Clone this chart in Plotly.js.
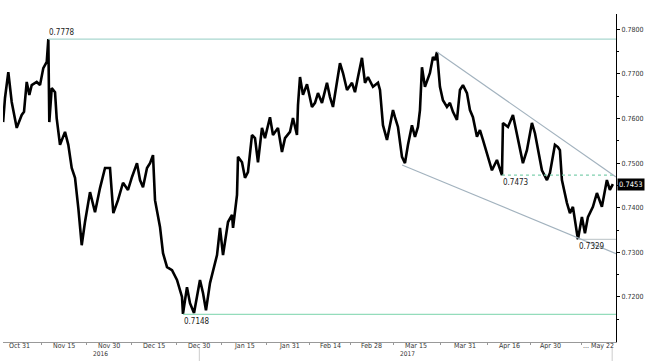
<!DOCTYPE html>
<html>
<head>
<meta charset="utf-8">
<script src="https://cdn.plot.ly/plotly-3.0.1.min.js"></script>
<style>html,body{margin:0;padding:0;background:#fff;}#chart{width:649px;height:361px;}</style>
</head>
<body>
<div id="chart"></div>
<script>
// trading-session number since Oct 25 2016 (weekends removed)
const session = [0,0.46,1.27,2.1,3.33,4.55,5.11,5.77,6.41,7.0,8.22,9.03,9.83,10.67,11.06,11.3,11.89,12.7,13.1,13.92,15.14,15.95,16.78,17.59,18.4,19.23,20.03,21.26,22.48,23.7,24.93,26.15,26.96,28.1,29.33,30.55,31.53,32.75,33.49,34.22,35.2,35.94,36.67,37.16,38.38,39.12,40.1,41.32,42.54,43.76,44.0,44.98,45.72,46.7,48.16,48.9,49.63,50.61,52.33,53.06,53.8,55.02,56.0,56.25,57.22,57.46,58.44,59.17,59.9,60.88,61.62,62.35,63.33,64.06,65.29,66.02,67.24,68.22,68.96,70.18,70.91,71.89,72.14,72.63,73.36,74.34,75.56,76.3,77.03,78.01,79.23,79.97,80.7,81.68,82.41,83.15,84.13,85.35,86.08,86.82,87.79,88.53,89.26,90.48,91.71,92.2,92.93,93.91,94.64,95.38,95.86,96.6,97.58,98.31,99.05,100.02,100.76,101.49,101.98,102.47,103.2,104.42,105.16,105.65,106.14,106.87,107.6,108.58,109.31,110.05,111.03,111.76,112.5,113.48,114.21,114.94,115.92,116.65,117.39,118.37,119.59,120.81,122.04,122.28,123.51,124.73,125.71,126.44,127.17,128.15,129.37,130.11,130.84,131.82,133.05,133.78,135.0,135.73,136.22,136.71,137.93,138.67,139.4,140.62,141.6,142.34,143.07,144.29,145.27,146.49,147.71,148.44,149.18];
const price = [0.7592,0.7646,0.7704,0.7637,0.7579,0.7608,0.7615,0.7682,0.7653,0.7675,0.7682,0.7675,0.7713,0.7727,0.7778,0.7592,0.7668,0.7659,0.7601,0.7541,0.7570,0.7541,0.7489,0.7467,0.7399,0.7316,0.7368,0.7435,0.7390,0.7444,0.7489,0.7489,0.7388,0.7417,0.7456,0.7440,0.7469,0.7500,0.7462,0.7446,0.7489,0.7500,0.7518,0.7417,0.7357,0.7298,0.7267,0.7260,0.7238,0.7200,0.7162,0.7222,0.7186,0.7164,0.7238,0.7209,0.7170,0.7231,0.7294,0.7355,0.7294,0.7368,0.7384,0.7355,0.7429,0.7514,0.7502,0.7467,0.7480,0.7563,0.7556,0.7502,0.7579,0.7556,0.7603,0.7563,0.7579,0.7525,0.7556,0.7570,0.7601,0.7563,0.7630,0.7693,0.7653,0.7677,0.7626,0.7635,0.7657,0.7635,0.7680,0.7648,0.7626,0.7680,0.7724,0.7702,0.7664,0.7680,0.7659,0.7693,0.7736,0.7680,0.7693,0.7671,0.7680,0.7664,0.7585,0.7552,0.7590,0.7619,0.7603,0.7581,0.7514,0.7500,0.7541,0.7585,0.7559,0.7581,0.7619,0.7715,0.7671,0.7702,0.7738,0.7731,0.7749,0.7671,0.7641,0.7626,0.7635,0.7615,0.7597,0.7664,0.7675,0.7657,0.7619,0.7603,0.7559,0.7574,0.7552,0.7523,0.7484,0.7507,0.7473,0.7590,0.7581,0.7608,0.7567,0.7529,0.7500,0.7529,0.7590,0.7567,0.7529,0.7484,0.7462,0.7478,0.7541,0.7536,0.7529,0.7462,0.7411,0.7388,0.7402,0.7329,0.7379,0.7343,0.7379,0.7402,0.7433,0.7402,0.7462,0.7440,0.7453];

const tickSessions = [4,15,26,37,48,59,70,80,90,101,113,124,134];
const tickLabels = ["Oct 31","Nov 15","Nov 30","Dec 15","Dec 30","Jan 15","Jan 31","Feb 14","Feb 28","Mar 15","Mar 31","Apr 16","Apr 30"];
const lastTickLabel = "... May 22";
const yearLabels = ["2016","2017"];
const yearSessions = [23.7, 99.0];
const yTicks = [0.72,0.73,0.74,0.75,0.76,0.77,0.78];

// marked levels
const levelStart = [11.06, 44.0, 122.04, 140.62];
const levelValue = [0.7778, 0.7161, 0.7473, 0.7329];
const levelLabel = ["0.7778","0.7148","0.7473","0.7329"];
const levelColor = ["#a9d7cf","#94dcbb","#7fcfae","#c6cdd0"];
const levelDash = ["solid","solid","3px,3px","solid"];
const levelPos = ["bottom","top","top","top"];

// trend channel endpoints [session, price]
const upperTrend = [[106.14,0.7749],[149.94,0.7469]];
const lowerTrend = [[97.6,0.7496],[149.94,0.7297]];
const lastPrice = 0.7453;

const xEnd = 149.94;
const FONT = "Liberation Sans Narrow, Arial Narrow, DejaVu Sans Condensed, sans-serif";

const minorX = [];
for (let i = 0; i < tickSessions.length; i++) {
  const nxt = i + 1 < tickSessions.length ? tickSessions[i+1] : 149;
  minorX.push((tickSessions[i] + nxt) / 2);
}
const minorY = yTicks.map(v => v - 0.005);

const shapes = [];
const annotations = [];
levelValue.forEach((v, i) => {
  shapes.push({type:"line", xref:"x", yref:"y", x0:levelStart[i], x1:xEnd, y0:v, y1:v,
    line:{color:levelColor[i], width:1.2, dash:levelDash[i]}});
  annotations.push({x:levelStart[i], y:v, xref:"x", yref:"y", text:levelLabel[i], showarrow:false,
    xanchor:"left", yanchor:levelPos[i], xshift:-1, yshift: levelPos[i]==="top" ? -1 : 0,
    font:{family:FONT, size:8, color:"#222"}});
});
[upperTrend, lowerTrend].forEach(t => {
  shapes.push({type:"line", xref:"x", yref:"y", x0:t[0][0], y0:t[0][1], x1:t[1][0], y1:t[1][1],
    line:{color:"#a2b2be", width:1.1}});
});
// small separators below axis
[48, 149].forEach(s => {
  shapes.push({type:"line", xref:"x", yref:"paper", x0:s, x1:s, y0:-0.015, y1:-0.06,
    line:{color:"#cccccc", width:1}});
});

// x tick labels (placed close under the axis line)
tickSessions.forEach((s, i) => {
  annotations.push({xref:"x", x:s, yref:"paper", y:0, text:tickLabels[i], showarrow:false,
    xanchor:"center", yanchor:"middle", yshift:-4, font:{family:FONT, size:7, color:"#333"}});
});
annotations.push({xref:"paper", x:1, yref:"paper", y:0, text:lastTickLabel, showarrow:false,
  xanchor:"right", yanchor:"middle", yshift:-4, font:{family:FONT, size:7, color:"#333"}});
yearSessions.forEach((s, i) => {
  annotations.push({xref:"x", x:s, yref:"paper", y:0, text:yearLabels[i], showarrow:false,
    xanchor:"center", yanchor:"middle", yshift:-11.5, font:{family:FONT, size:6.5, color:"#333"}});
});

annotations.push({xref:"paper", x:1, y:lastPrice, yref:"y", text:"0.7453", showarrow:false,
  xanchor:"left", yanchor:"middle", xshift:1, bgcolor:"#000", borderpad:1,
  font:{family:FONT, size:7.5, color:"#fff"}});

const trace = {x:session, y:price, type:"scatter", mode:"lines",
  line:{color:"#000", width:2.6}, hoverinfo:"skip"};

const layout = {
  width:649, height:361,
  margin:{l:3, r:33, t:14, b:19, pad:0},
  paper_bgcolor:"#fff", plot_bgcolor:"#fff",
  showlegend:false,
  xaxis:{range:[-0.03, xEnd], showline:true, linecolor:"#999", linewidth:1, showgrid:false, zeroline:false,
    tickmode:"array", tickvals:tickSessions, showticklabels:false, ticks:"",
    minor:{tickmode:"array", tickvals:minorX, ticks:"outside", ticklen:2, tickcolor:"#999", showgrid:false}},
  yaxis:{side:"right", range:[0.7099, 0.78343], showline:true, linecolor:"#000", linewidth:1,
    showgrid:false, zeroline:false, tickmode:"array", tickvals:yTicks, tickformat:".4f",
    ticks:"outside", ticklen:3, tickcolor:"#000", tickfont:{family:FONT, size:7, color:"#333"},
    minor:{tickmode:"array", tickvals:minorY, ticks:"outside", ticklen:2, tickcolor:"#000", showgrid:false}},
  shapes:shapes,
  annotations:annotations
};

Plotly.newPlot("chart", [trace], layout, {displayModeBar:false, staticPlot:true});
</script>
</body>
</html>
